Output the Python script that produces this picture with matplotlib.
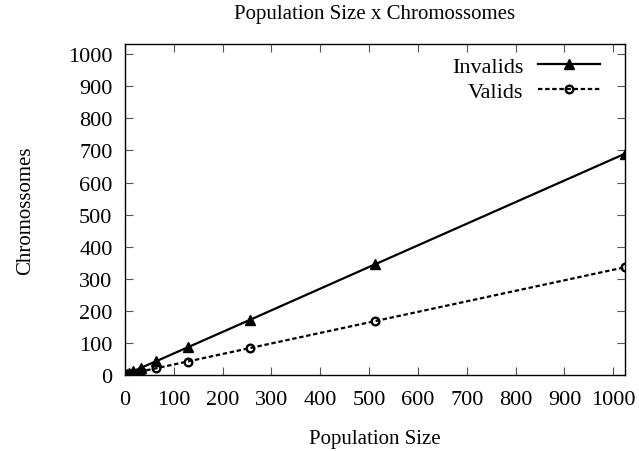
import matplotlib
matplotlib.use("Agg")
import matplotlib.pyplot as plt

pop_size = [1, 2, 4, 8, 16, 32, 64, 128, 256, 512, 1024]
invalids = [1, 1, 3, 5, 11, 22, 43, 86, 172, 345, 690]
valids = [0, 1, 1, 3, 5, 11, 21, 42, 84, 168, 336]
xticks = list(range(0, 1001, 100))
yticks = list(range(0, 1001, 100))

plt.rcParams['font.family'] = ['Liberation Serif', 'DejaVu Serif']
fs = 16

fig = plt.figure(figsize=(6.39, 4.52), dpi=100)
ax = fig.add_axes([125/639, 1-376/452, 500/639, 331/452])

ax.plot(pop_size, invalids, color='black', lw=1.6, marker='^', ms=7,
        label='Invalids')
ax.plot(pop_size, valids, color='black', lw=1.6, ls=(0, (2, 1.2)), marker='o',
        ms=5.5, mfc='none', mew=1.7, label='Valids')

ax.set_xlim(0, 1024)
ax.set_ylim(0, 1032)
ax.set_xticks(xticks)
ax.set_yticks(yticks)
ax.tick_params(direction='in', length=6, width=0.8, top=True, right=True,
               labelsize=fs, color='#555555')
ax.tick_params(axis='x', pad=11)
ax.tick_params(axis='y', pad=9)
for s in ax.spines.values():
    s.set_linewidth(1.0)

ax.set_title('Population Size x Chromossomes', fontsize=fs - 1, pad=19)
ax.set_xlabel('Population Size', fontsize=fs - 1, labelpad=14)
ax.set_ylabel('Chromossomes', fontsize=fs - 1, labelpad=24)

leg = ax.legend(loc='upper right', bbox_to_anchor=(0.95, 0.963),
                frameon=False, markerfirst=False, borderpad=0,
                borderaxespad=0, fontsize=fs, handlelength=2.8,
                labelspacing=0.22, handletextpad=0.65)

fig.savefig('out.png', dpi=100)
